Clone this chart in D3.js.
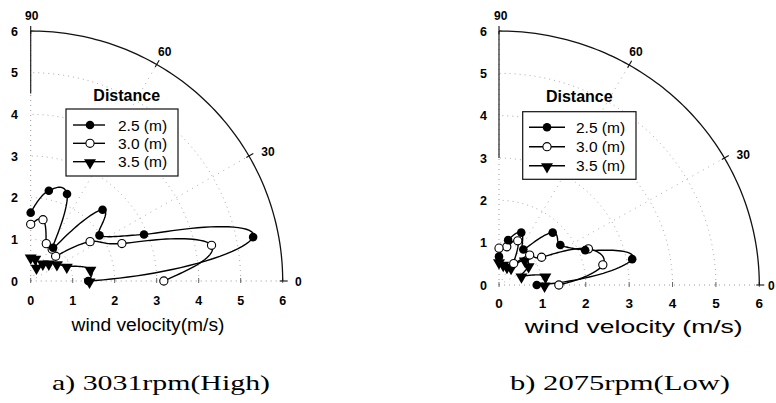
<!DOCTYPE html>
<html><head><meta charset="utf-8">
<script src="https://cdn.jsdelivr.net/npm/d3@7"></script>
<style>body{margin:0;background:#fff}svg{display:block}</style>
</head><body><svg id="c" width="776" height="403"></svg>
<script>
// ---- data ----
const angles = [0, 11.25, 22.5, 33.75, 45, 56.25, 67.5, 78.75, 90];   // direction (deg)
const seriesNames = ["2.5 (m)", "3.0 (m)", "3.5 (m)"];
// a) 3031 rpm (High) — wind velocity (m/s) at each angle
const highD25 = [1.37, 5.40, 2.92, 1.97, 2.42, 0.96, 2.26, 2.21, 1.64];
const highD30 = [3.17, 4.39, 2.35, 1.70, 0.84, 0.92, 0.97, 1.50, 1.36];
const highD35 = [1.40, 1.45, 0.93, 0.75, 0.61, 0.52, 0.36, 0.56, 0.58];
// b) 2075 rpm (Low)
const lowD25 = [0.87, 3.13, 2.15, 1.70, 1.75, 1.01, 1.34, 1.08, 0.67];
const lowD30 = [1.38, 2.44, 2.23, 1.18, 1.00, 0.61, 1.13, 0.92, 0.87];
const lowD35 = [1.05, 1.09, 0.56, 0.82, 0.84, 0.50, 0.48, 0.50, 0.55];
const radialTicks = [0, 1, 2, 3, 4, 5, 6];
const angleTicks = [0, 30, 60, 90];
const captions = ["a) 3031rpm(High)", "b) 2075rpm(Low)"];
const axisTitles = ["wind velocity(m/s)", "wind velocity (m/s)"];
const legendTitle = "Distance";

// ---- layout ----
const panels = [
  { series: [highD25, highD30, highD35], caption: captions[0], title: axisTitles[0],
    ox: 30.7, oy: 281, x6: 282.7, y6: 31, solidTo: 4.5,
    xtickY: 305, xtickSize: 12.5, ytickX: 18, ytickSize: 12.5,
    titleX: 148, titleY: 331, titleLen: 153, titleSize: 17.5,
    capX: 161, capY: 390, capLen: 218,
    angLab: {0: [295, 286, "start"], 30: [268, 156], 60: [164.7, 56], 90: [31.7, 19.5]},
    leg: { x0: 66, x1: 178, y0: 109, y1: 176, rows: [125, 143.3, 161.7], l0: 73, l1: 105, mk: 90, tx: 118, tt: [126.7, 101] } },
  { series: [lowD25, lowD30, lowD35], caption: captions[1], title: axisTitles[1],
    ox: 499, oy: 285, x6: 759.3, y6: 31, solidTo: 3,
    xtickY: 308, xtickSize: 13.5, ytickX: 487, ytickSize: 12.5,
    titleX: 633.7, titleY: 333, titleLen: 218, titleSize: 18.5,
    capX: 620, capY: 390, capLen: 220,
    angLab: {0: [768, 290, "start"], 30: [743.3, 158.5], 60: [636, 55.5], 90: [500.7, 19.5]},
    leg: { x0: 522.7, x1: 636, y0: 111.7, y1: 179.3, rows: [127.3, 146.7, 165.7], l0: 529, l1: 565, mk: 547, tx: 576, tt: [579.3, 102] } }
];

const svg = d3.select("#c");
const rad = d => d * Math.PI / 180;
const gridAngles = d3.range(0, 90.01, 1);
const FONT = "Liberation Sans, Arial, sans-serif";

// smooth (Catmull-Rom) interpolation carried out in (angle, velocity) space
function polarSpline(as, rs, steps) {
  const n = as.length, out = [];
  const tan = (arr, i) => i === 0 ? arr[1] - arr[0] : i === n - 1 ? arr[n - 1] - arr[n - 2] : (arr[i + 1] - arr[i - 1]) / 2;
  for (let i = 0; i < n - 1; i++) {
    const ma0 = tan(as, i), ma1 = tan(as, i + 1), mr0 = tan(rs, i), mr1 = tan(rs, i + 1);
    for (let s = 0; s < steps; s++) {
      const t = s / steps, t2 = t * t, t3 = t2 * t;
      const h00 = 2 * t3 - 3 * t2 + 1, h10 = t3 - 2 * t2 + t, h01 = -2 * t3 + 3 * t2, h11 = t3 - t2;
      out.push([h00 * as[i] + h10 * ma0 + h01 * as[i + 1] + h11 * ma1,
                h00 * rs[i] + h10 * mr0 + h01 * rs[i + 1] + h11 * mr1]);
    }
  }
  out.push([as[n - 1], rs[n - 1]]);
  return out;
}

function marker(g, k, px, py) {
  if (k === 0) g.append("circle").attr("cx", px).attr("cy", py).attr("r", 4.3).attr("fill", "#000");
  else if (k === 1) g.append("circle").attr("cx", px).attr("cy", py).attr("r", 4.1).attr("fill", "#fff").attr("stroke", "#000").attr("stroke-width", 1.1);
  else g.append("path").attr("d", d3.symbol(d3.symbolTriangle, 62)()).attr("transform", `translate(${px},${py + 1}) rotate(180)`).attr("fill", "#000");
}

panels.forEach(p => {
  const x = d3.scaleLinear().domain([0, 6]).range([p.ox, p.x6]);
  const y = d3.scaleLinear().domain([0, 6]).range([p.oy, p.y6]);
  const g = svg.append("g");
  const pol = (r, a) => [x(r * Math.cos(rad(a))), y(r * Math.sin(rad(a)))];
  const arcLine = d3.line();

  // dotted grid arcs and radial lines
  radialTicks.filter(r => r > 0 && r < 6).forEach(r => {
    g.append("path").attr("d", arcLine(gridAngles.map(a => pol(r, a))))
      .attr("fill", "none").attr("stroke", "#aaa").attr("stroke-width", 1).attr("stroke-dasharray", "1,4");
  });
  [30, 60].forEach(a => {
    g.append("path").attr("d", arcLine([pol(0, a), pol(6, a)]))
      .attr("fill", "none").attr("stroke", "#aaa").attr("stroke-width", 1).attr("stroke-dasharray", "1,5");
  });
  // baseline + vertical axis
  g.append("path").attr("d", arcLine([pol(0, 0), pol(6, 0)])).attr("stroke", "#999").attr("stroke-dasharray", "1,4");
  g.append("path").attr("d", arcLine([pol(0, 90), pol(6, 90)])).attr("stroke", "#999").attr("stroke-dasharray", "1,4");
  g.append("path").attr("d", arcLine([pol(p.solidTo, 90), pol(6, 90)])).attr("stroke", "#222").attr("stroke-width", 1.2);
  // x-axis small ticks
  radialTicks.forEach(r => {
    g.append("line").attr("x1", x(r)).attr("x2", x(r)).attr("y1", y(0) - 3).attr("y2", y(0) + 2)
      .attr("stroke", "#666").attr("stroke-width", 1);
  });
  // outer arc
  g.append("path").attr("d", arcLine(gridAngles.map(a => pol(6, a))))
    .attr("fill", "none").attr("stroke", "#111").attr("stroke-width", 1.3);
  // angle ticks
  angleTicks.forEach(a => {
    const c = Math.cos(rad(a)), s = Math.sin(rad(a));
    const [ax, ay] = pol(6, a);
    g.append("line").attr("x1", ax - c * 3).attr("y1", ay + s * 3).attr("x2", ax + c * 5).attr("y2", ay - s * 5)
      .attr("stroke", "#111").attr("stroke-width", 1.1);
    const L = p.angLab[a];
    g.append("text").attr("x", L[0]).attr("y", L[1]).attr("text-anchor", L[2] || "middle")
      .attr("font-family", FONT).attr("font-weight", "bold").attr("font-size", 12).text(a);
  });
  // tick labels
  radialTicks.forEach(r => {
    g.append("text").attr("x", x(r)).attr("y", p.xtickY).attr("text-anchor", "middle")
      .attr("font-family", FONT).attr("font-weight", "bold").attr("font-size", p.xtickSize).text(r);
    g.append("text").attr("x", p.ytickX).attr("y", y(r) + 4.5).attr("text-anchor", "end")
      .attr("font-family", FONT).attr("font-weight", "bold").attr("font-size", p.ytickSize).text(r);
  });
  // axis title + caption
  g.append("text").attr("x", p.titleX).attr("y", p.titleY).attr("text-anchor", "middle")
    .attr("font-family", FONT).attr("font-size", p.titleSize)
    .attr("textLength", p.titleLen).attr("lengthAdjust", "spacingAndGlyphs").text(p.title);
  g.append("text").attr("x", p.capX).attr("y", p.capY).attr("text-anchor", "middle")
    .attr("font-family", "Liberation Serif, Times New Roman, serif").attr("font-size", 22)
    .attr("textLength", p.capLen).attr("lengthAdjust", "spacingAndGlyphs").text(p.caption);

  // series
  const line = d3.line();
  const order = [2, 1, 0];
  order.forEach(k => {
    const pts = polarSpline(angles, p.series[k], 24).map(([a, r]) => pol(r, a));
    g.append("path").attr("d", line(pts)).attr("fill", "none").attr("stroke", "#000").attr("stroke-width", 1.4);
  });
  order.forEach(k => {
    angles.forEach((a, i) => { const [px, py] = pol(p.series[k][i], a); marker(g, k, px, py); });
  });

  // legend
  const L = p.leg;
  g.append("text").attr("x", L.tt[0]).attr("y", L.tt[1]).attr("text-anchor", "middle")
    .attr("font-family", FONT).attr("font-weight", "bold").attr("font-size", 16).text(legendTitle);
  g.append("rect").attr("x", L.x0).attr("y", L.y0).attr("width", L.x1 - L.x0).attr("height", L.y1 - L.y0)
    .attr("fill", "#fff").attr("stroke", "#111").attr("stroke-width", 1.2);
  seriesNames.forEach((n, k) => {
    const ry = L.rows[k];
    g.append("line").attr("x1", L.l0).attr("x2", L.l1).attr("y1", ry).attr("y2", ry).attr("stroke", "#000").attr("stroke-width", 1.4);
    marker(g, k, L.mk, ry);
    g.append("text").attr("x", L.tx).attr("y", ry + 5.5).attr("font-family", FONT).attr("font-size", 15.5).text(n);
  });
});
</script></body></html>
